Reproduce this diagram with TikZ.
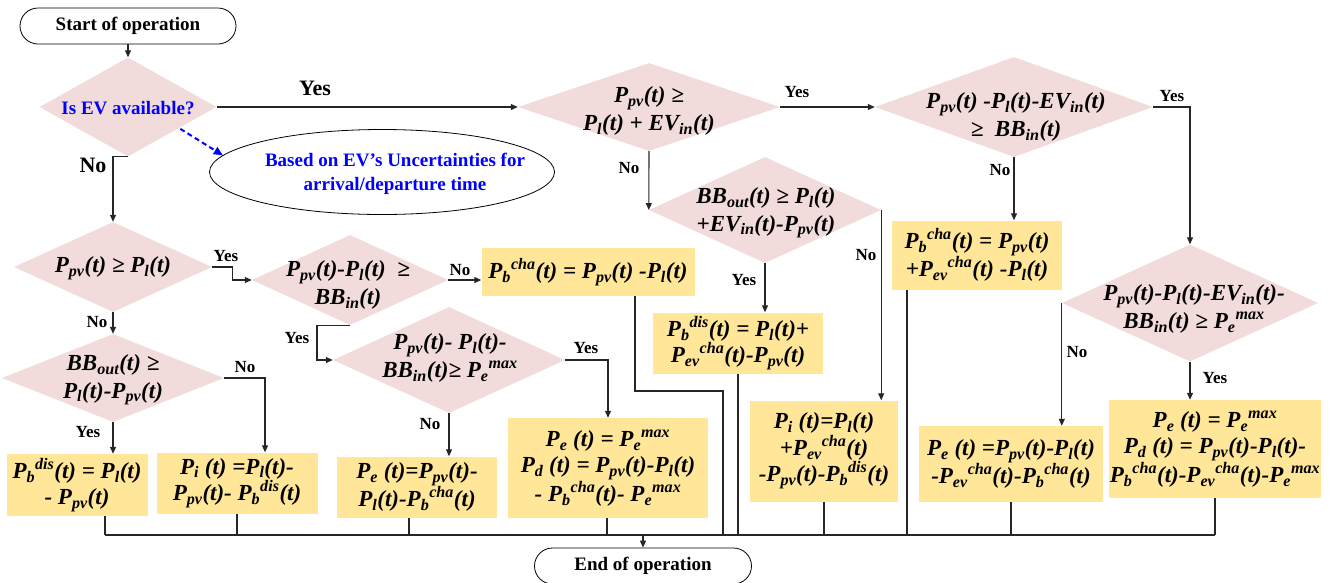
\documentclass[tikz,border=0pt]{standalone}
\usepackage{fontspec}
\setmainfont{Liberation Serif}
\usetikzlibrary{shapes.geometric,arrows.meta,calc}
\definecolor{pinkc}{HTML}{F2DCDB}
\definecolor{yelc}{HTML}{FFE699}
\newcommand{\mysub}[1]{\textsubscript{#1}}
\newcommand{\mysup}[1]{\textsuperscript{#1}}
\begin{document}
\begin{tikzpicture}[x=1pt,y=-1pt,
 dia/.style={diamond, fill=pinkc, draw=none, inner sep=0pt},
 fbox/.style={rectangle, fill=yelc, inner sep=0pt, align=center, font=\fontsize{23}{26.5}\selectfont\bfseries\itshape},
 ftext/.style={font=\fontsize{23}{27.5}\selectfont\bfseries\itshape, align=center, inner sep=0pt},
 term/.style={draw, rounded corners=18pt, line width=0.8pt, font=\fontsize{19}{22}\selectfont\bfseries, inner sep=0pt},
 lab/.style={font=\fontsize{17}{20}\selectfont\bfseries, inner sep=1pt},
 biglab/.style={font=\fontsize{22}{24}\selectfont\bfseries, inner sep=1pt},
 conn/.style={line width=1.1pt, draw=black!85},
 arr/.style={conn, -{Triangle[length=7pt,width=6pt]}},
]
\useasboundingbox (0,0) rectangle (1333,582);

% terminals
\node[term, minimum width=216pt, minimum height=36pt] (start) at (128,26) {Start of operation};
\node[term, minimum width=217pt, minimum height=36pt] (end) at (643,566) {End of operation};

% diamonds
\node[dia, minimum width=177pt, minimum height=99pt] (d1) at (128,107) {};
\node[dia, minimum width=198pt, minimum height=90pt] (d2) at (113,267) {};
\node[dia, minimum width=196pt, minimum height=90pt] (d3) at (350,280) {};
\node[dia, minimum width=232pt, minimum height=106pt] (d4) at (449,360) {};
\node[dia, minimum width=222pt, minimum height=88pt] (d5) at (113,378) {};
\node[dia, minimum width=262pt, minimum height=88pt] (d6) at (649,107) {};
\node[dia, minimum width=278pt, minimum height=100pt] (d7) at (1014,107) {};
\node[dia, minimum width=256pt, minimum height=117pt] (d8) at (1190,303) {};
\node[dia, minimum width=232pt, minimum height=106pt] (d9) at (765,210) {};

\node[font=\fontsize{19}{22}\selectfont\bfseries, text=blue, inner sep=0pt] (d1t) at (128,108) {Is EV available?};
\node[ftext] (d2t) at (113,268) {P\mysub{pv}(t) ≥ P\mysub{l}(t)};
\node[ftext] (d3t) at (348,285) {P\mysub{pv}(t)-P\mysub{l}(t)\ \ ≥\\BB\mysub{in}(t)};
\node[ftext] (d4t) at (450,358) {P\mysub{pv}(t)- P\mysub{l}(t)-\\BB\mysub{in}(t)≥ P\mysub{e}\mysup{max}};
\node[ftext] (d5t) at (113,380) {BB\mysub{out}(t) ≥\\P\mysub{l}(t)-P\mysub{pv}(t)};
\node[ftext] (d6t) at (649,111) {P\mysub{pv}(t) ≥\\P\mysub{l}(t) + EV\mysub{in}(t)};
\node[ftext] (d7t) at (1016,117) {P\mysub{pv}(t) -P\mysub{l}(t)-EV\mysub{in}(t)\\≥\ \ BB\mysub{in}(t)};
\node[ftext] (d8t) at (1194,309) {P\mysub{pv}(t)-P\mysub{l}(t)-EV\mysub{in}(t)-\\BB\mysub{in}(t) ≥ P\mysub{e}\mysup{max}};
\node[ftext] (d9t) at (766,213) {BB\mysub{out}(t) ≥ P\mysub{l}(t)\\+EV\mysub{in}(t)-P\mysub{pv}(t)};

% ellipse
\node[ellipse, draw, line width=0.8pt, minimum width=345pt, minimum height=85pt, inner sep=0pt] (ell) at (382,172) {};
\node[font=\fontsize{19}{24}\selectfont\bfseries, text=blue, align=center, inner sep=0pt] (ellt) at (395,174) {Based on EV’s Uncertainties for\\arrival/departure time};

% boxes
\node[fbox, minimum width=213pt, minimum height=48pt] (b1) at (588,272) {P\mysub{b}\mysup{cha}(t) = P\mysub{pv}(t) -P\mysub{l}(t)};
\node[fbox, minimum width=160pt, minimum height=61pt] (b2) at (417,487) {P\mysub{e} (t)=P\mysub{pv}(t)-\\P\mysub{l}(t)-P\mysub{b}\mysup{cha}(t)};
\node[fbox, minimum width=200pt, minimum height=100pt] (b3) at (608,468) {P\mysub{e} (t) = P\mysub{e}\mysup{max}\\P\mysub{d} (t) = P\mysub{pv}(t)-P\mysub{l}(t)\\- P\mysub{b}\mysup{cha}(t)- P\mysub{e}\mysup{max}};
\node[fbox, minimum width=161pt, minimum height=61pt] (b4) at (237,483) {P\mysub{i} (t) =P\mysub{l}(t)-\\P\mysub{pv}(t)- P\mysub{b}\mysup{dis}(t)};
\node[fbox, minimum width=141pt, minimum height=62pt] (b5) at (77,485) {P\mysub{b}\mysup{dis}(t) = P\mysub{l}(t)\\- P\mysub{pv}(t)};
\node[fbox, minimum width=170pt, minimum height=69pt] (b6) at (977,255) {P\mysub{b}\mysup{cha}(t) = P\mysub{pv}(t)\\+P\mysub{ev}\mysup{cha}(t) -P\mysub{l}(t)};
\node[fbox, minimum width=170pt, minimum height=61pt] (b7) at (738,343) {P\mysub{b}\mysup{dis}(t) = P\mysub{l}(t)+\\P\mysub{ev}\mysup{cha}(t)-P\mysub{pv}(t)};
\node[fbox, minimum width=148pt, minimum height=101pt] (b8) at (824,451) {P\mysub{i} (t)=P\mysub{l}(t)\\+P\mysub{ev}\mysup{cha}(t)\\-P\mysub{pv}(t)-P\mysub{b}\mysup{dis}(t)};
\node[fbox, minimum width=184pt, minimum height=76pt] (b9) at (1011,464) {P\mysub{e} (t) =P\mysub{pv}(t)-P\mysub{l}(t)\\-P\mysub{ev}\mysup{cha}(t)-P\mysub{b}\mysup{cha}(t)};
\node[fbox, minimum width=212pt, minimum height=98pt] (b10) at (1215,449) {P\mysub{e} (t) = P\mysub{e}\mysup{max}\\P\mysub{d} (t) = P\mysub{pv}(t)-P\mysub{l}(t)-\\P\mysub{b}\mysup{cha}(t)-P\mysub{ev}\mysup{cha}(t)-P\mysub{e}\mysup{max}};

% connectors
\draw[arr] (start.south) -- (d1.north);
\draw[arr] (d1.south) -| (d2.north);
\draw[arr] (d1.east) -- (d6.west);
\draw[blue, line width=2pt, dash pattern=on 5pt off 3.5pt, -{Triangle[length=9pt,width=8pt]}] (d1.south east) ++(8,-3) -- (ell.174);
\draw[arr] (d2.east) -- ++(20,0) |- (d3.west);
\draw[arr] (d3.east) -- (d3.east -| b1.west);
\draw[arr] (d3.south) -- ++(-33,0) |- (d4.west);
\draw[arr] (d4.east) -| (b3.north);
\draw[arr] (d4.south) -- (d4.south |- b2.north);
\draw[arr] (d2.south) -- (d5.north);
\coordinate (c5) at (265,378);
\draw[arr] (d5.east) -- (c5) -- (c5 |- b4.north);
\draw[arr] (d5.south) -- (d5.south |- b5.north);
\draw[arr] (d6.east) -- (d7.west);
\draw[arr] (d6.south) -- (d9.west);
\draw[arr] (d7.east) -| (d8.north);
\draw[arr] (d7.south) -- (d7.south |- b6.north);
\draw[arr] (d8.south) -- (d8.south |- b10.north);
\draw[arr] (d8.west) -- (d8.west |- b9.north);
\draw[arr] (d9.south) -- (d9.south |- b7.north);
\draw[arr] (d9.east) -- (d9.east |- b8.north);

% bus to end
\coordinate (j1) at (105,535);
\coordinate (j2) at (237,535);
\coordinate (j3) at (409,535);
\coordinate (j4) at (607,535);
\coordinate (j5) at (723,535);
\coordinate (j6) at (738,535);
\coordinate (j7) at (824,535);
\coordinate (j8) at (907,535);
\coordinate (j9) at (1011,535);
\coordinate (j10) at (1215,535);
\coordinate (jE) at (643,535);
\coordinate (b1turn) at (635,391);
\draw[conn] (j1) -- (j10);
\draw[conn] (j1 |- b5.south) -- (j1);
\draw[conn] (j2 |- b4.south) -- (j2);
\draw[conn] (j3 |- b2.south) -- (j3);
\draw[conn] (j4 |- b3.south) -- (j4);
\draw[conn] (b1turn |- b1.south) -- (b1turn) -| (j5);
\draw[conn] (j6 |- b7.south) -- (j6);
\draw[conn] (j7 |- b8.south) -- (j7);
\draw[conn] (j8 |- b6.south) -- (j8);
\draw[conn] (j9 |- b9.south) -- (j9);
\draw[conn] (j10 |- b10.south) -- (j10);
\draw[arr] (jE) -- (end.north);

% labels
\node[biglab] (lyes1) at (315,88) {Yes};
\node[biglab] (lno1) at (93,165) {No};
\node[lab] (l6y) at (797,92) {Yes};
\node[lab] (l6n) at (629,168) {No};
\node[lab] (l7y) at (1172,96) {Yes};
\node[lab] (l7n) at (1000,170) {No};
\node[lab] (l2y) at (226,256) {Yes};
\node[lab] (l2n) at (97,322) {No};
\node[lab] (l3n) at (460,270) {No};
\node[lab] (l3y) at (297,338) {Yes};
\node[lab] (l4y) at (586,348) {Yes};
\node[lab] (l4n) at (430,424) {No};
\node[lab] (l5n) at (245,367) {No};
\node[lab] (l5y) at (88,432) {Yes};
\node[lab] (l9y) at (744,280) {Yes};
\node[lab] (l9n) at (866,255) {No};
\node[lab] (l8y) at (1215,378) {Yes};
\node[lab] (l8n) at (1077,352) {No};
\end{tikzpicture}
\end{document}
